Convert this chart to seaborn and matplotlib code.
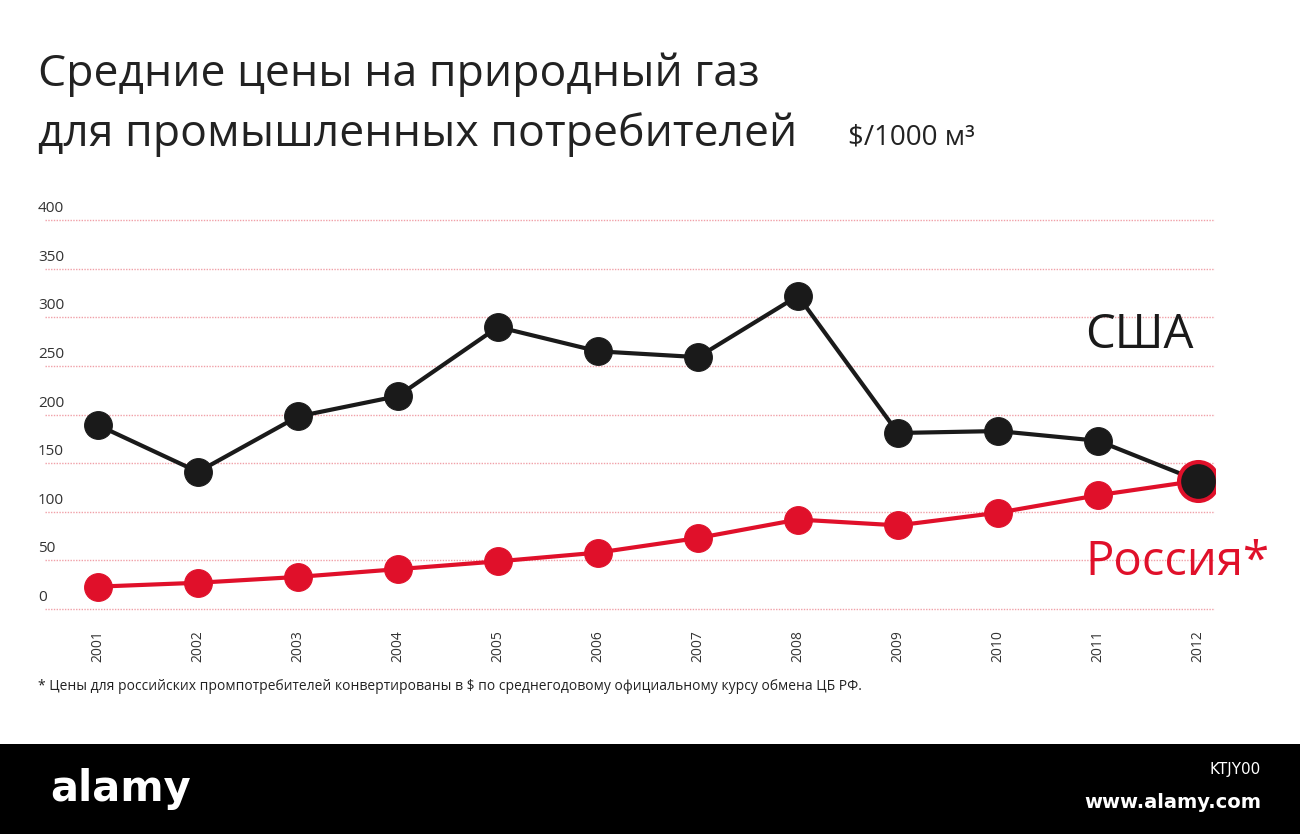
import matplotlib
matplotlib.use("Agg")
import matplotlib.pyplot as plt
import seaborn as sns
import pandas as pd

years = list(range(2001, 2013))
usa = [189, 141, 198, 219, 290, 265, 259, 322, 181, 183, 173, 132]
russia = [23, 27, 33, 41, 49, 58, 73, 92, 86, 99, 117, 132]
yticks = [0, 50, 100, 150, 200, 250, 300, 350, 400]

W, H = 1300, 834
fig = plt.figure(figsize=(W/100, H/100), dpi=100)
fig.patch.set_facecolor("white")
ax = fig.add_axes([45/W, 1-620/H, (1215-45)/W, (620-210)/H])
ax.set_xlim(2001-0.53, 2012+0.17)
ax.set_ylim(-11.3, 410.3)
ax.axis("off")
trans = matplotlib.transforms.blended_transform_factory(fig.transFigure, ax.transData)
for t in yticks:
    ax.axhline(t, color="#f0a0a8", lw=1, ls=(0, (1, 1)), zorder=0)
    ax.text(38/W, t + 4, str(t), transform=trans, ha="left", va="bottom",
            fontsize=11, color="#333333", family="Open Sans")
df = pd.DataFrame({"year": years, "usa": usa, "russia": russia})
sns.lineplot(data=df, x="year", y="usa", ax=ax, color="#1a1a1a", lw=3, marker="o",
             markersize=20, markeredgecolor="#1a1a1a", zorder=3)
sns.lineplot(data=df, x="year", y="russia", ax=ax, color="#e0102a", lw=3, marker="o",
             markersize=20, markeredgecolor="#e0102a", zorder=2)
ax.plot([2012], [132], "o", ms=28, mfc="#1a1a1a", mec="#e0102a", mew=3, zorder=4)
ax.axis("off")
for y in years:
    ax.text(y, -22, str(y), rotation=90, ha="center", va="top", fontsize=10,
            color="#333333", family="Open Sans")
fig.text(1085/W, 1-335/H, "США", fontsize=34, color="#1a1a1a", va="center", family="Open Sans")
fig.text(1085/W, 1-562/H, "Россия*", fontsize=34, color="#e0102a", va="center", family="Open Sans")
fig.text(38/W, 1-75/H, "Средние цены на природный газ", fontsize=32, color="#222222",
         va="center", family="Open Sans")
fig.text(38/W, 1-135/H, "для промышленных потребителей", fontsize=32, color="#222222",
         va="center", family="Open Sans")
fig.text(848/W, 1-138/H, "$/1000 м³", fontsize=20, color="#222222", va="center", family="Open Sans")
fig.text(38/W, 1-687/H, "* Цены для российских промпотребителей конвертированы в $ по среднегодовому официальному курсу обмена ЦБ РФ.",
         fontsize=10, color="#222222", va="center", family="Open Sans")
bar = fig.add_axes([0, 0, 1, 90/H])
bar.set_facecolor("black"); bar.set_xticks([]); bar.set_yticks([])
for s in bar.spines.values(): s.set_visible(False)
bar.text(50/W, 0.5, "alamy", color="white", fontsize=30, fontweight="bold", va="center", transform=bar.transAxes)
bar.text(0.97, 0.72, "KTJY00", color="white", fontsize=11, ha="right", va="center", transform=bar.transAxes)
bar.text(0.97, 0.35, "www.alamy.com", color="white", fontsize=14, fontweight="bold", ha="right", va="center", transform=bar.transAxes)
fig.savefig("out.png", dpi=100)
